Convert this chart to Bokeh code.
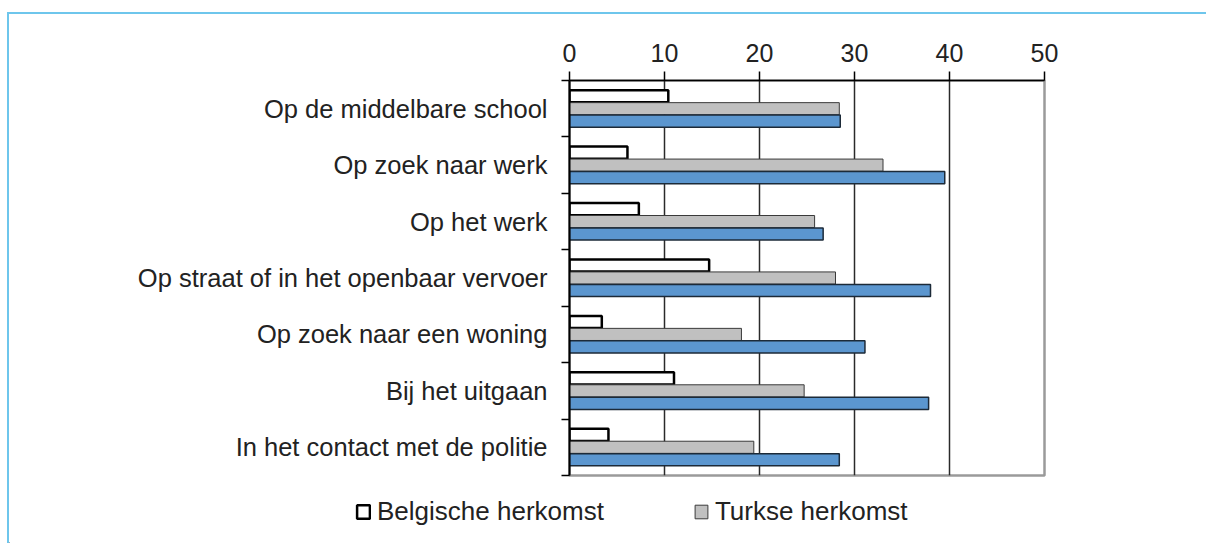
from bokeh.plotting import figure
from bokeh.layouts import column
from bokeh.models import Range1d, FixedTicker, Legend, LegendItem
from bokeh.embed import file_html
from bokeh.resources import INLINE

categories = [
    "Op de middelbare school",
    "Op zoek naar werk",
    "Op het werk",
    "Op straat of in het openbaar vervoer",
    "Op zoek naar een woning",
    "Bij het uitgaan",
    "In het contact met de politie",
]
belgisch = [10.4, 6.1, 7.3, 14.7, 3.4, 11.0, 4.1]
turks = [28.4, 33.0, 25.8, 28.0, 18.1, 24.7, 19.4]
marokkaans = [28.5, 39.5, 26.7, 38.0, 31.1, 37.8, 28.4]
legend_labels = ["Belgische herkomst", "Turkse herkomst"]
x_ticks = [0, 10, 20, 30, 40, 50]
grid_ticks = [10, 20, 30, 40]

FONT = "Liberation Sans"
TXT = "#222222"
WHITE_STYLE = dict(fill_color="white", line_color="black", line_width=2.5)
GRAY_STYLE = dict(fill_color="#c0c0c0", line_color="#3a3a3a", line_width=1)
BLUE_STYLE = dict(fill_color="#5b96cf", line_color="#1c2a38", line_width=1.5)

n = len(categories)
centers = [i + 0.5 for i in range(n)]
off = 0.221
bh = 0.215

p = figure(
    x_range=Range1d(0, 50), y_range=Range1d(n, 0),
    x_axis_location="above",
    frame_width=475, frame_height=395,
    min_border_left=560, min_border_top=66, min_border_right=162, min_border_bottom=10,
    output_backend="svg", toolbar_location=None,
)
p.frame_align = False
p.background_fill_color = "white"
p.border_fill_color = "white"
p.outline_line_color = "#9a9a9a"
p.outline_line_width = 2.5

r1 = p.hbar(y=[c - off for c in centers], height=bh, left=0, right=belgisch, **WHITE_STYLE)
r2 = p.hbar(y=centers, height=bh, left=0, right=turks, **GRAY_STYLE)
r3 = p.hbar(y=[c + off for c in centers], height=bh, left=0, right=marokkaans, **BLUE_STYLE)

# x axis (top)
xa = p.xaxis[0]
xa.ticker = FixedTicker(ticks=x_ticks)
xa.major_tick_out = 9
xa.major_tick_in = 0
xa.minor_tick_out = 0
xa.minor_tick_in = 0
xa.axis_line_color = "black"
xa.axis_line_width = 1.5
xa.major_tick_line_color = "black"
xa.major_tick_line_width = 1.5
xa.major_label_text_font = FONT
xa.major_label_text_font_size = "25px"
xa.major_label_text_color = TXT
xa.major_label_standoff = 10

# y axis (left), ticks at category boundaries
ya = p.yaxis[0]
ya.ticker = FixedTicker(ticks=centers, minor_ticks=list(range(n + 1)))
ya.major_label_overrides = {c: cat for c, cat in zip(centers, categories)}
ya.major_tick_out = 0
ya.major_tick_in = 0
ya.minor_tick_out = 8
ya.minor_tick_in = 0
ya.minor_tick_line_color = "black"
ya.minor_tick_line_width = 1.5
ya.axis_line_color = "black"
ya.axis_line_width = 2
ya.major_label_text_font = FONT
ya.major_label_text_font_size = "25.5px"
ya.major_label_text_color = TXT
ya.major_label_standoff = 14

p.xgrid.ticker = FixedTicker(ticks=grid_ticks)
p.xgrid.grid_line_color = "#2a2a2a"
p.xgrid.grid_line_width = 1.5
p.ygrid.visible = False

# legend strip below the chart (its proxy bars lie outside the visible range)
p2 = figure(width=1197, height=58, min_border=0,
            x_range=Range1d(0, 1), y_range=Range1d(0, 1),
            x_axis_type=None, y_axis_type=None,
            output_backend="svg", toolbar_location=None)
p2.frame_align = False
p2.outline_line_color = None
p2.background_fill_color = "white"
p2.border_fill_color = "white"
lr1 = p2.hbar(y=[-5], height=0.5, left=-5, right=[-4], **WHITE_STYLE)
lr2 = p2.hbar(y=[-5], height=0.5, left=-5, right=[-4], **GRAY_STYLE)

legend = Legend(
    items=[LegendItem(label=legend_labels[0], renderers=[lr1]),
           LegendItem(label=legend_labels[1], renderers=[lr2])],
    orientation="horizontal", location=(346, 16),
    glyph_width=16, glyph_height=17, label_standoff=6, spacing=89,
    padding=0, margin=0, border_line_color=None, background_fill_alpha=0,
    label_text_font=FONT, label_text_font_size="26px", label_text_color=TXT,
)
p2.add_layout(legend, "center")

layout = column(p, p2, spacing=0,
                styles={"margin-top": "12px", "margin-left": "7px",
                        "border-top": "2px solid #6ec6ec", "border-left": "2px solid #6ec6ec"})

open("out.html", "w").write(file_html(layout, INLINE))
